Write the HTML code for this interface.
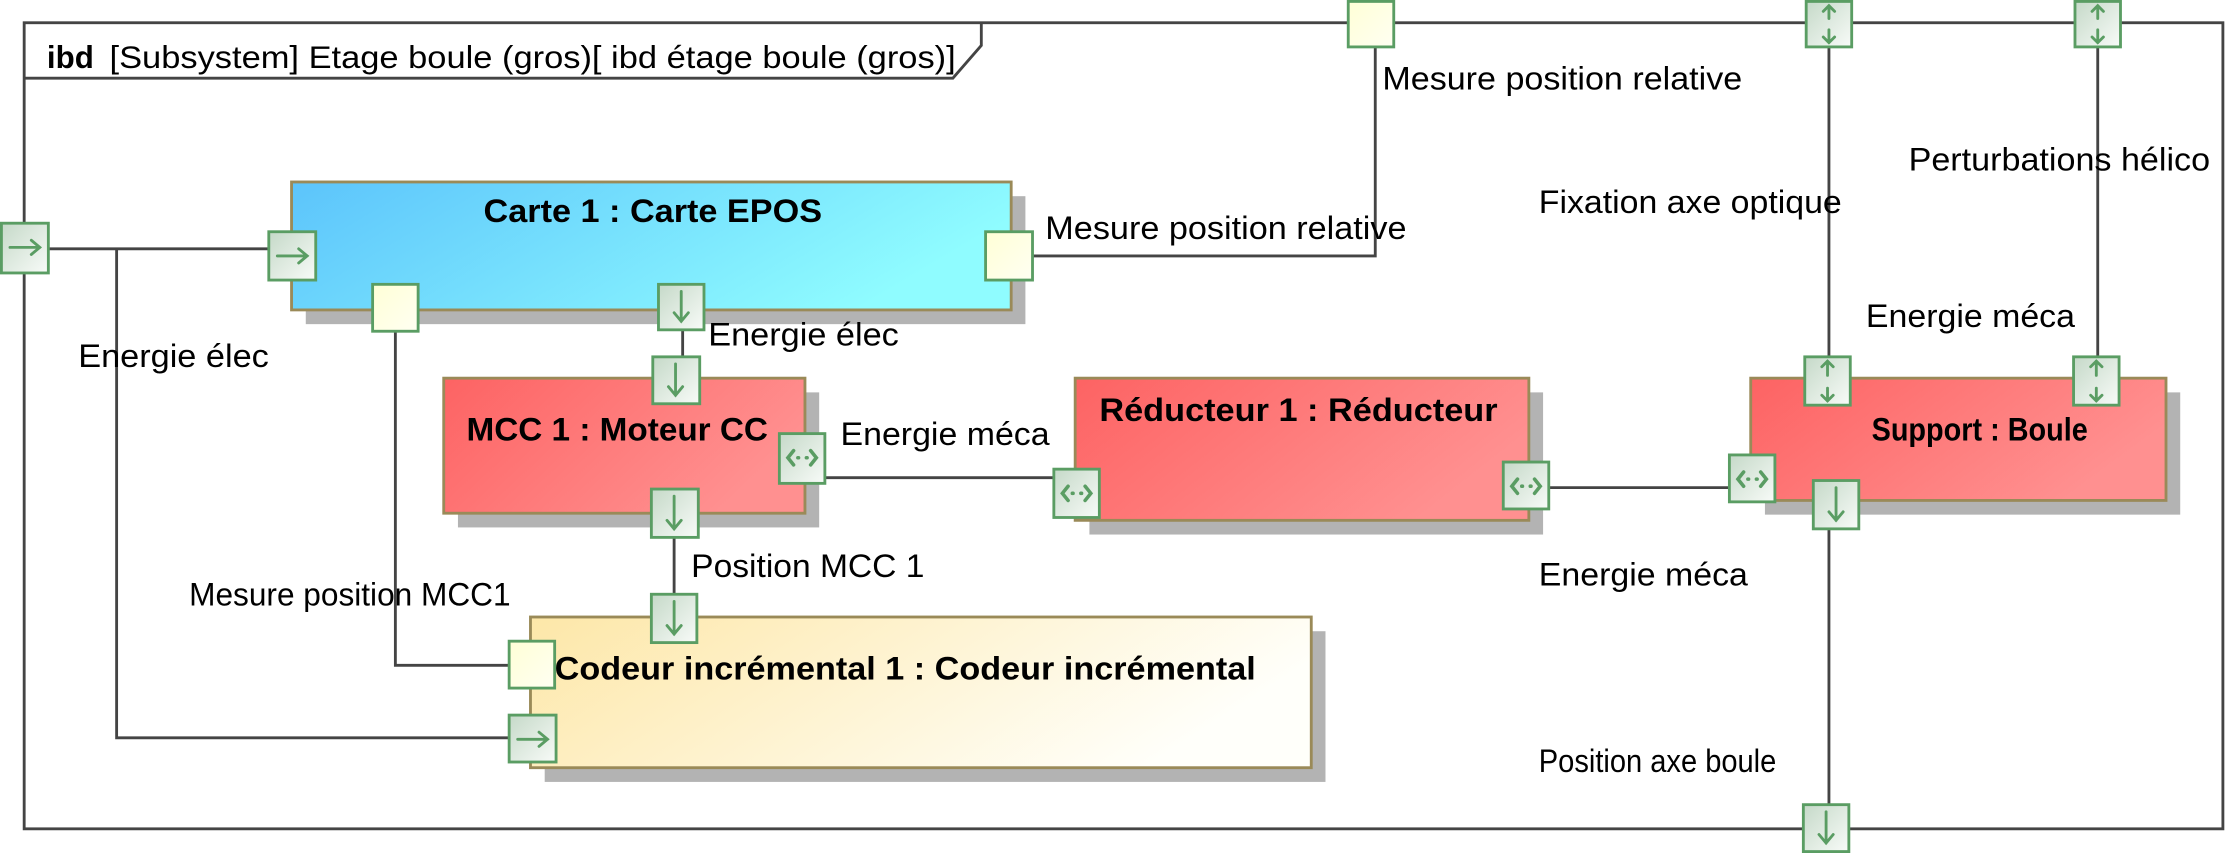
<!DOCTYPE html>
<html><head><meta charset="utf-8"><style>
html,body{margin:0;padding:0;background:#fff;}
svg{display:block;}
text{font-family:"Liberation Sans",Arial,sans-serif;fill:#000;}
.l{font-size:23px;}
.b{font-size:23px;font-weight:bold;}
</style></head><body>
<svg width="2230" height="853" viewBox="0 0 1568 600" preserveAspectRatio="none" xmlns="http://www.w3.org/2000/svg">
<defs>
<linearGradient id="blue" x1="0" y1="0" x2="1" y2="0.3"><stop offset="0" stop-color="#5cc4fb"/><stop offset="1" stop-color="#8ffcff"/></linearGradient>
<linearGradient id="red" x1="0" y1="0" x2="1" y2="0.4"><stop offset="0" stop-color="#fd6363"/><stop offset="1" stop-color="#ff9090"/></linearGradient>
<linearGradient id="yel" x1="0" y1="0" x2="1" y2="0.3"><stop offset="0" stop-color="#fde7a8"/><stop offset="1" stop-color="#fffffa"/></linearGradient>
<linearGradient id="port" x1="0" y1="0" x2="1" y2="1"><stop offset="0" stop-color="#c5d9c8"/><stop offset="1" stop-color="#f8fbf8"/></linearGradient>
<linearGradient id="yport" x1="0" y1="0" x2="1" y2="1"><stop offset="0" stop-color="#ffffd6"/><stop offset="1" stop-color="#fffff2"/></linearGradient>
</defs>
<g stroke="#444" stroke-width="2" fill="none">
<rect x="17" y="16" width="1546" height="567"/>
<path d="M17 55 H670 L690 32 V16"/>
<path d="M34 175 H190 M82 175 V519 H358"/>
<path d="M726 180 H967 V33"/>
<path d="M480 232 V251"/>
<path d="M580 336 H741"/>
<path d="M1089 343 H1216"/>
<path d="M1286 33 V251 M1475 33 V251 M1286 372 V566"/>
<path d="M474 378 V418"/>
<path d="M278 233 V468 H358"/>
</g>
<text x="33" y="48" class="b" style="font-size:22px">ibd</text>
<text x="77" y="48" class="l" style="font-size:22px" textLength="595" lengthAdjust="spacingAndGlyphs">[Subsystem] Etage boule (gros)[ ibd étage boule (gros)]</text>
<g fill="#b3b3b3">
<rect x="215" y="138" width="506" height="90"/>
<rect x="322" y="276" width="254" height="95"/>
<rect x="766" y="276" width="319" height="100"/>
<rect x="1241" y="276" width="292" height="86"/>
<rect x="383" y="444" width="549" height="106"/>
</g>
<g stroke="#9a8a58" stroke-width="2">
<rect x="205" y="128" width="506" height="90" fill="url(#blue)"/>
<rect x="312" y="266" width="254" height="95" fill="url(#red)"/>
<rect x="756" y="266" width="319" height="100" fill="url(#red)"/>
<rect x="1231" y="266" width="292" height="86" fill="url(#red)"/>
<rect x="373" y="434" width="549" height="106" fill="url(#yel)"/>
</g>
<text x="340" y="156" class="b" textLength="238" lengthAdjust="spacingAndGlyphs">Carte 1 : Carte EPOS</text>
<text x="328" y="310" class="b" textLength="212" lengthAdjust="spacingAndGlyphs">MCC 1 : Moteur CC</text>
<text x="773" y="296" class="b" textLength="280" lengthAdjust="spacingAndGlyphs">Réducteur 1 : Réducteur</text>
<text x="1316" y="310" class="b" textLength="152" lengthAdjust="spacingAndGlyphs">Support : Boule</text>
<text x="390" y="478" class="b" textLength="493" lengthAdjust="spacingAndGlyphs">Codeur incrémental 1 : Codeur incrémental</text>
<g stroke="#5a9d63" stroke-width="2">
<rect x="1" y="157" width="33" height="35" fill="url(#port)"/>
<rect x="189" y="163" width="33" height="34" fill="url(#port)"/>
<rect x="693" y="163" width="33" height="34" fill="url(#yport)"/>
<rect x="262" y="200" width="32" height="33" fill="url(#yport)"/>
<rect x="463" y="200" width="32" height="32" fill="url(#port)"/>
<rect x="948" y="1" width="32" height="32" fill="url(#yport)"/>
<rect x="459" y="251" width="33" height="33" fill="url(#port)"/>
<rect x="548" y="305" width="32" height="35" fill="url(#port)"/>
<rect x="458" y="344" width="33" height="34" fill="url(#port)"/>
<rect x="741" y="330" width="32" height="34" fill="url(#port)"/>
<rect x="1057" y="325" width="32" height="33" fill="url(#port)"/>
<rect x="1216" y="320" width="32" height="33" fill="url(#port)"/>
<rect x="1269" y="251" width="32" height="34" fill="url(#port)"/>
<rect x="1458" y="251" width="32" height="34" fill="url(#port)"/>
<rect x="1275" y="338" width="32" height="34" fill="url(#port)"/>
<rect x="1270" y="1" width="32" height="32" fill="url(#port)"/>
<rect x="1459" y="1" width="32" height="32" fill="url(#port)"/>
<rect x="1268" y="566" width="32" height="33" fill="url(#port)"/>
<rect x="458" y="418" width="32" height="34" fill="url(#port)"/>
<rect x="358" y="451" width="32" height="33" fill="url(#yport)"/>
<rect x="358" y="503" width="33" height="33" fill="url(#port)"/>
</g>
<g stroke="#5a9d63" stroke-width="2" fill="none" stroke-linecap="round">
<path d="M7 174 H28 M22 169 L28 174 L22 179"/>
<path d="M195 180 H216 M210 175 L216 180 L210 185"/>
<path d="M364 520 H385 M379 515 L385 520 L379 525"/>
<path d="M479 205 V226 M474 220 L479 226 L484 220"/>
<path d="M475 256 V278 M470 272 L475 278 L480 272"/>
<path d="M474 349 V372 M469 366 L474 372 L479 366"/>
<path d="M474 423 V446 M469 440 L474 446 L479 440"/>
<path d="M1291 343 V366 M1286 360 L1291 366 L1296 360"/>
<path d="M1284 571 V593 M1279 587 L1284 593 L1289 587"/>
</g>
<g stroke="#5a9d63" stroke-width="2.5" fill="none" stroke-linecap="round">
<path d="M558 317 L554 322 L558 327 M570 317 L574 322 L570 327 M561 322 H561.5 M567 322 H567.5"/>
<path d="M751 342 L747 347 L751 352 M763 342 L767 347 L763 352 M754 347 H754.5 M760 347 H760.5"/>
<path d="M1067 337 L1063 342 L1067 347 M1079 337 L1083 342 L1079 347 M1070 342 H1070.5 M1076 342 H1076.5"/>
<path d="M1226 332 L1222 337 L1226 342 M1238 332 L1242 337 L1238 342 M1229 337 H1229.5 M1235 337 H1235.5"/>
</g>
<g stroke="#5a9d63" stroke-width="2" fill="none" stroke-linecap="round">
<path d="M1281 258 L1285 254 L1289 258 M1285 254 V264 M1285 273 V282 M1281 278 L1285 282 L1289 278"/>
<path d="M1470 258 L1474 254 L1478 258 M1474 254 V264 M1474 273 V282 M1470 278 L1474 282 L1478 278"/>
<path d="M1282 8 L1286 4 L1290 8 M1286 4 V13 M1286 21 V30 M1282 26 L1286 30 L1290 26"/>
<path d="M1471 8 L1475 4 L1479 8 M1475 4 V13 M1475 21 V30 M1471 26 L1475 30 L1479 26"/>
</g>
<g class="l">
<text x="972" y="63" textLength="253" lengthAdjust="spacingAndGlyphs">Mesure position relative</text>
<text x="735" y="168" textLength="254" lengthAdjust="spacingAndGlyphs">Mesure position relative</text>
<text x="1082" y="150" textLength="213" lengthAdjust="spacingAndGlyphs">Fixation axe optique</text>
<text x="1342" y="120" textLength="212" lengthAdjust="spacingAndGlyphs">Perturbations hélico</text>
<text x="1312" y="230" textLength="147" lengthAdjust="spacingAndGlyphs">Energie méca</text>
<text x="591" y="313" textLength="147" lengthAdjust="spacingAndGlyphs">Energie méca</text>
<text x="1082" y="412" textLength="147" lengthAdjust="spacingAndGlyphs">Energie méca</text>
<text x="1082" y="543" textLength="167" lengthAdjust="spacingAndGlyphs">Position axe boule</text>
<text x="486" y="406" textLength="164" lengthAdjust="spacingAndGlyphs">Position MCC 1</text>
<text x="133" y="426" textLength="226" lengthAdjust="spacingAndGlyphs">Mesure position MCC1</text>
<text x="55" y="258" textLength="134" lengthAdjust="spacingAndGlyphs">Energie élec</text>
<text x="498" y="243" textLength="134" lengthAdjust="spacingAndGlyphs">Energie élec</text>
</g>
</svg>
</body></html>
